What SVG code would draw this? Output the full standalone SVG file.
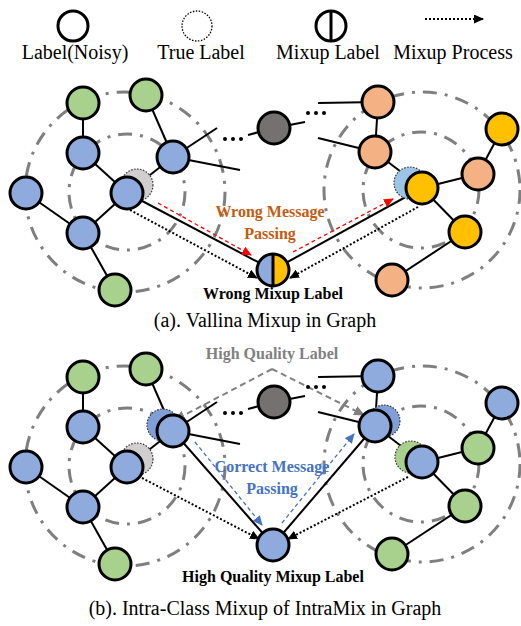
<svg xmlns="http://www.w3.org/2000/svg" width="521" height="626" viewBox="0 0 521 626">
<style>
.ring{fill:none;stroke:#7f7f7f;stroke-width:3;stroke-dasharray:14 8 3 8}
.e{stroke:#000;stroke-width:2;fill:none}
.dot{stroke:#000;stroke-width:2;stroke-dasharray:2 2;fill:none}
.n{stroke:#000;stroke-width:3}
.blue{fill:#8faadc}.green{fill:#a9d18e}.peach{fill:#f4b183}.yellow{fill:#ffc000}.gray{fill:#767171}
.tl{stroke:#333;stroke-width:1.2;stroke-dasharray:1.5 1.5}
.red{stroke:#ff0000;stroke-width:1.3;stroke-dasharray:4 3;fill:none}
.bl{stroke:#4472c4;stroke-width:1.3;stroke-dasharray:4 3;fill:none}
.gr{stroke:#808080;stroke-width:2;stroke-dasharray:6 4;fill:none}
text{font-family:"Liberation Serif","Times New Roman",serif;text-anchor:middle}
.leg{font-size:20px;fill:#000}
.cap{font-size:20px;fill:#000}
.b{font-weight:bold;font-size:16px}
</style>
<defs>
<marker id="ak" markerUnits="userSpaceOnUse" markerWidth="10" markerHeight="9" refX="9" refY="4.5" orient="auto"><path d="M0,0 L10,4.5 L0,9 z" fill="#000"/></marker>
<marker id="ar" markerUnits="userSpaceOnUse" markerWidth="10" markerHeight="9" refX="9" refY="4.5" orient="auto"><path d="M0,0 L10,4.5 L0,9 z" fill="#ff0000"/></marker>
<marker id="ab" markerUnits="userSpaceOnUse" markerWidth="10" markerHeight="9" refX="9" refY="4.5" orient="auto"><path d="M0,0 L10,4.5 L0,9 z" fill="#4472c4"/></marker>
<marker id="ag" markerUnits="userSpaceOnUse" markerWidth="11" markerHeight="10" refX="10" refY="5" orient="auto"><path d="M0,0 L11,5 L0,10 z" fill="#808080"/></marker>
</defs>

<!-- legend -->
<g id="legend">
<circle cx="73" cy="26" r="15" fill="none" stroke="#000" stroke-width="3"/>
<text class="leg" x="75" y="59">Label(Noisy)</text>
<circle cx="197" cy="26" r="15" fill="none" stroke="#000" stroke-width="1.3" stroke-dasharray="1.5 1.5"/>
<text class="leg" x="201" y="59">True Label</text>
<circle cx="331" cy="26" r="15" fill="none" stroke="#000" stroke-width="3"/>
<line x1="331" y1="11" x2="331" y2="41" stroke="#000" stroke-width="3"/>
<text class="leg" x="328" y="59">Mixup Label</text>
<line x1="425" y1="19" x2="483" y2="19" class="dot" marker-end="url(#ak)"/>
<text class="leg" x="453" y="59">Mixup Process</text>
</g>

<!-- rings -->
<g id="rings">
<circle class="ring" cx="125" cy="192" r="100"/>
<circle class="ring" cx="127" cy="192" r="58"/>
<circle class="ring" cx="422" cy="190" r="98"/>
<circle class="ring" cx="421" cy="190" r="58"/>
<circle class="ring" cx="125" cy="466" r="100"/>
<circle class="ring" cx="127" cy="466" r="58"/>
<circle class="ring" cx="422" cy="464" r="98"/>
<circle class="ring" cx="421" cy="464" r="58"/>
</g>

<!-- connectors -->
<g id="connectors">
<!-- panel a -->
<line class="e" x1="83" y1="103" x2="83" y2="153"/>
<line class="e" x1="146" y1="95" x2="173" y2="157"/>
<line class="e" x1="83" y1="153" x2="127" y2="193"/>
<line class="e" x1="127" y1="193" x2="173" y2="157"/>
<line class="e" x1="127" y1="193" x2="83" y2="233"/>
<line class="e" x1="26" y1="193" x2="83" y2="233"/>
<line class="e" x1="83" y1="233" x2="115" y2="290"/>
<line class="e" x1="173" y1="157" x2="217" y2="128"/>
<line class="e" x1="173" y1="157" x2="240" y2="170"/>
<line class="e" x1="248" y1="135" x2="274" y2="128"/>
<line class="e" x1="274" y1="128" x2="305" y2="122"/>
<line class="e" x1="318" y1="103" x2="378" y2="102"/>
<line class="e" x1="318" y1="138" x2="375" y2="152"/>
<line class="e" x1="378" y1="102" x2="375" y2="152"/>
<line class="e" x1="375" y1="152" x2="422" y2="188"/>
<line class="e" x1="422" y1="188" x2="478" y2="174"/>
<line class="e" x1="478" y1="174" x2="502" y2="129"/>
<line class="e" x1="422" y1="188" x2="465" y2="232"/>
<line class="e" x1="465" y1="232" x2="392" y2="280"/>
<line class="e" x1="127" y1="193" x2="273" y2="270"/>
<line class="e" x1="422" y1="188" x2="273" y2="270"/>
<line class="dot" x1="130" y1="210" x2="257" y2="278" marker-end="url(#ak)"/>
<line class="dot" x1="418" y1="207" x2="290" y2="278" marker-end="url(#ak)"/>
<line class="red" x1="158" y1="203" x2="251" y2="255" marker-end="url(#ar)"/>
<line class="red" x1="293" y1="252" x2="393" y2="199" marker-end="url(#ar)"/>
<g fill="#000"><circle cx="225" cy="139" r="2"/><circle cx="233" cy="139" r="2"/><circle cx="241" cy="139" r="2"/>
<circle cx="308" cy="113" r="2"/><circle cx="316" cy="113" r="2"/><circle cx="324" cy="113" r="2"/></g>
<!-- panel b -->
<line class="e" x1="83" y1="377" x2="83" y2="427"/>
<line class="e" x1="146" y1="369" x2="173" y2="431"/>
<line class="e" x1="83" y1="427" x2="127" y2="467"/>
<line class="e" x1="127" y1="467" x2="173" y2="431"/>
<line class="e" x1="127" y1="467" x2="83" y2="507"/>
<line class="e" x1="26" y1="467" x2="83" y2="507"/>
<line class="e" x1="83" y1="507" x2="115" y2="564"/>
<line class="e" x1="173" y1="431" x2="217" y2="402"/>
<line class="e" x1="173" y1="431" x2="240" y2="444"/>
<line class="e" x1="248" y1="409" x2="274" y2="402"/>
<line class="e" x1="274" y1="402" x2="305" y2="396"/>
<line class="e" x1="318" y1="377" x2="378" y2="376"/>
<line class="e" x1="318" y1="412" x2="375" y2="426"/>
<line class="e" x1="378" y1="376" x2="375" y2="426"/>
<line class="e" x1="375" y1="426" x2="422" y2="462"/>
<line class="e" x1="422" y1="462" x2="478" y2="448"/>
<line class="e" x1="478" y1="448" x2="502" y2="403"/>
<line class="e" x1="422" y1="462" x2="465" y2="506"/>
<line class="e" x1="465" y1="506" x2="392" y2="554"/>
<line class="e" x1="173" y1="431" x2="273" y2="545"/>
<line class="e" x1="375" y1="426" x2="273" y2="545"/>
<line class="dot" x1="142" y1="478" x2="259" y2="539" marker-end="url(#ak)"/>
<line class="dot" x1="408" y1="477" x2="288" y2="539" marker-end="url(#ak)"/>
<line class="bl" x1="195" y1="442" x2="262" y2="525" marker-end="url(#ab)"/>
<line class="bl" x1="282" y1="523" x2="354" y2="434" marker-end="url(#ab)"/>
<polyline class="gr" points="272,369 175,420" marker-end="url(#ag)"/>
<polyline class="gr" points="272,369 364,415" marker-end="url(#ag)"/>
<g fill="#000"><circle cx="225" cy="413" r="2"/><circle cx="233" cy="413" r="2"/><circle cx="241" cy="413" r="2"/>
<circle cx="308" cy="387" r="2"/><circle cx="316" cy="387" r="2"/><circle cx="324" cy="387" r="2"/></g>
</g>

<!-- nodes panel a -->
<g id="a_g1"><circle class="n green" cx="83" cy="103" r="16"/></g>
<g id="a_g2"><circle class="n green" cx="146" cy="95" r="16"/></g>
<g id="a_b1"><circle class="n blue" cx="83" cy="153" r="16"/></g>
<g id="a_b2"><circle class="n blue" cx="173" cy="157" r="16"/></g>
<g id="a_hubL"><circle class="tl" fill="#d0cece" cx="137" cy="185" r="16"/><circle class="n blue" cx="127" cy="193" r="16"/></g>
<g id="a_b3"><circle class="n blue" cx="26" cy="193" r="16"/></g>
<g id="a_b4"><circle class="n blue" cx="83" cy="233" r="16"/></g>
<g id="a_g3"><circle class="n green" cx="115" cy="290" r="16"/></g>
<g id="a_gray"><circle class="n gray" cx="274" cy="128" r="16"/></g>
<g id="a_p1"><circle class="n peach" cx="378" cy="102" r="16"/></g>
<g id="a_p2"><circle class="n peach" cx="375" cy="152" r="16"/></g>
<g id="a_hubR"><circle class="tl" fill="#9dc3e6" cx="410" cy="183" r="16"/><circle class="n yellow" cx="422" cy="188" r="16"/></g>
<g id="a_y1"><circle class="n yellow" cx="502" cy="129" r="16"/></g>
<g id="a_p3"><circle class="n peach" cx="478" cy="174" r="16"/></g>
<g id="a_y2"><circle class="n yellow" cx="465" cy="232" r="16"/></g>
<g id="a_p4"><circle class="n peach" cx="392" cy="280" r="16"/></g>
<g id="a_mix">
<path d="M273,254 A16,16 0 0 0 273,286 z" fill="#8faadc"/>
<path d="M273,254 A16,16 0 0 1 273,286 z" fill="#ffc000"/>
<circle cx="273" cy="270" r="16" fill="none" stroke="#000" stroke-width="3"/>
<line x1="273" y1="254" x2="273" y2="286" stroke="#000" stroke-width="3"/>
</g>

<!-- nodes panel b -->
<g id="b_g1"><circle class="n green" cx="83" cy="377" r="16"/></g>
<g id="b_g2"><circle class="n green" cx="146" cy="369" r="16"/></g>
<g id="b_b1"><circle class="n blue" cx="83" cy="427" r="16"/></g>
<g id="b_b2"><circle class="tl" fill="#7f9fd6" cx="163" cy="425" r="16"/><circle class="n blue" cx="173" cy="431" r="16"/></g>
<g id="b_hubL"><circle class="tl" fill="#d0cece" cx="137" cy="459" r="16"/><circle class="n blue" cx="127" cy="467" r="16"/></g>
<g id="b_b3"><circle class="n blue" cx="26" cy="467" r="16"/></g>
<g id="b_b4"><circle class="n blue" cx="83" cy="507" r="16"/></g>
<g id="b_g3"><circle class="n green" cx="115" cy="564" r="16"/></g>
<g id="b_gray"><circle class="n gray" cx="274" cy="402" r="16"/></g>
<g id="b_n1"><circle class="n blue" cx="378" cy="376" r="16"/></g>
<g id="b_n2"><circle class="tl" fill="#7f9fd6" cx="384" cy="421" r="16"/><circle class="n blue" cx="375" cy="426" r="16"/></g>
<g id="b_hubR"><circle class="tl" fill="#a9d18e" cx="411" cy="457" r="16"/><circle class="n blue" cx="422" cy="462" r="16"/></g>
<g id="b_n3"><circle class="n blue" cx="502" cy="403" r="16"/></g>
<g id="b_n4"><circle class="n green" cx="478" cy="448" r="16"/></g>
<g id="b_n5"><circle class="n green" cx="465" cy="506" r="16"/></g>
<g id="b_n6"><circle class="n green" cx="392" cy="554" r="16"/></g>
<g id="b_mix"><circle class="n blue" cx="273" cy="545" r="16"/></g>

<!-- labels -->
<g id="labels">
<text class="b" x="270" y="217" fill="#c55a11">Wrong Message</text>
<text class="b" x="270" y="239" fill="#c55a11">Passing</text>
<text class="b" x="273" y="299" fill="#000">Wrong Mixup Label</text>
<text class="cap" x="265" y="327">(a). Vallina Mixup in Graph</text>
<text class="b" x="272" y="359" fill="#808080">High Quality Label</text>
<text class="b" x="272" y="472" fill="#4472c4">Correct Message</text>
<text class="b" x="272" y="494" fill="#4472c4">Passing</text>
<text class="b" x="273" y="582" fill="#000">High Quality Mixup Label</text>
<text class="cap" x="265" y="615">(b). Intra-Class Mixup of IntraMix in Graph</text>
</g>
</svg>
